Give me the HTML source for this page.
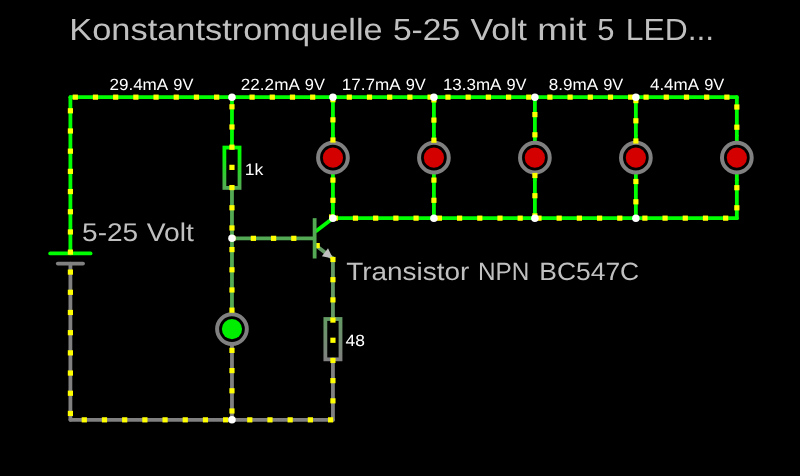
<!DOCTYPE html>
<html><head><meta charset="utf-8"><style>
html,body{margin:0;padding:0;background:#000;}
body{width:800px;height:476px;overflow:hidden;}
svg{display:block;will-change:transform;text-rendering:geometricPrecision;}
text{font-family:"Liberation Sans",sans-serif;}
</style></head><body>
<svg width="800" height="476" viewBox="0 0 800 476">
<rect width="800" height="476" fill="#000"/>
<line x1="70.4" y1="97.15" x2="736.84" y2="97.15" stroke="#00ff00" stroke-width="3.8" stroke-linecap="round"/>
<line x1="70.4" y1="97.15" x2="70.4" y2="253.45" stroke="#00ff00" stroke-width="3.8" stroke-linecap="round"/>
<line x1="70.4" y1="263.54" x2="70.4" y2="419.84" stroke="#808080" stroke-width="3.8" stroke-linecap="round"/>
<line x1="70.4" y1="419.84" x2="332.94" y2="419.84" stroke="#808080" stroke-width="3.8" stroke-linecap="round"/>
<line x1="50.2" y1="253.45" x2="90.6" y2="253.45" stroke="#00ff00" stroke-width="3.8" stroke-linecap="round"/>
<line x1="57.78" y1="263.54" x2="83.02" y2="263.54" stroke="#808080" stroke-width="3.8" stroke-linecap="round"/>
<line x1="332.94" y1="218.16" x2="736.84" y2="218.16" stroke="#00ff00" stroke-width="3.8" stroke-linecap="round"/>
<line x1="332.94" y1="97.15" x2="332.94" y2="134.97" stroke="#00ff00" stroke-width="3.8" stroke-linecap="round"/>
<line x1="332.94" y1="134.97" x2="332.94" y2="142.53" stroke="#00ff00" stroke-width="3.8" stroke-linecap="butt"/>
<line x1="332.94" y1="180.34" x2="332.94" y2="218.16" stroke="#00ff00" stroke-width="3.8" stroke-linecap="round"/>
<line x1="332.94" y1="172.78" x2="332.94" y2="180.34" stroke="#00ff00" stroke-width="3.8" stroke-linecap="butt"/>
<line x1="433.91" y1="97.15" x2="433.91" y2="134.97" stroke="#00ff00" stroke-width="3.8" stroke-linecap="round"/>
<line x1="433.91" y1="134.97" x2="433.91" y2="142.53" stroke="#00ff00" stroke-width="3.8" stroke-linecap="butt"/>
<line x1="433.91" y1="180.34" x2="433.91" y2="218.16" stroke="#00ff00" stroke-width="3.8" stroke-linecap="round"/>
<line x1="433.91" y1="172.78" x2="433.91" y2="180.34" stroke="#00ff00" stroke-width="3.8" stroke-linecap="butt"/>
<line x1="534.89" y1="97.15" x2="534.89" y2="134.97" stroke="#00ff00" stroke-width="3.8" stroke-linecap="round"/>
<line x1="534.89" y1="134.97" x2="534.89" y2="142.53" stroke="#00ff00" stroke-width="3.8" stroke-linecap="butt"/>
<line x1="534.89" y1="180.34" x2="534.89" y2="218.16" stroke="#00ff00" stroke-width="3.8" stroke-linecap="round"/>
<line x1="534.89" y1="172.78" x2="534.89" y2="180.34" stroke="#00ff00" stroke-width="3.8" stroke-linecap="butt"/>
<line x1="635.87" y1="97.15" x2="635.87" y2="134.97" stroke="#00ff00" stroke-width="3.8" stroke-linecap="round"/>
<line x1="635.87" y1="134.97" x2="635.87" y2="142.53" stroke="#00ff00" stroke-width="3.8" stroke-linecap="butt"/>
<line x1="635.87" y1="180.34" x2="635.87" y2="218.16" stroke="#00ff00" stroke-width="3.8" stroke-linecap="round"/>
<line x1="635.87" y1="172.78" x2="635.87" y2="180.34" stroke="#00ff00" stroke-width="3.8" stroke-linecap="butt"/>
<line x1="736.84" y1="97.15" x2="736.84" y2="134.97" stroke="#00ff00" stroke-width="3.8" stroke-linecap="round"/>
<line x1="736.84" y1="134.97" x2="736.84" y2="142.53" stroke="#00ff00" stroke-width="3.8" stroke-linecap="butt"/>
<line x1="736.84" y1="180.34" x2="736.84" y2="218.16" stroke="#00ff00" stroke-width="3.8" stroke-linecap="round"/>
<line x1="736.84" y1="172.78" x2="736.84" y2="180.34" stroke="#00ff00" stroke-width="3.8" stroke-linecap="butt"/>
<line x1="231.96" y1="97.15" x2="231.96" y2="147.57" stroke="#00ff00" stroke-width="3.8" stroke-linecap="round"/>
<line x1="231.96" y1="187.91" x2="231.96" y2="238.33" stroke="#54aa54" stroke-width="3.8" stroke-linecap="round"/>
<line x1="231.96" y1="238.33" x2="231.96" y2="306.39" stroke="#54aa54" stroke-width="3.8" stroke-linecap="round"/>
<line x1="231.96" y1="306.39" x2="231.96" y2="313.96" stroke="#54aa54" stroke-width="3.8" stroke-linecap="butt"/>
<line x1="231.96" y1="351.77" x2="231.96" y2="419.84" stroke="#808080" stroke-width="3.8" stroke-linecap="round"/>
<line x1="231.96" y1="344.21" x2="231.96" y2="351.77" stroke="#808080" stroke-width="3.8" stroke-linecap="butt"/>
<line x1="231.96" y1="238.33" x2="312.74" y2="238.33" stroke="#54aa54" stroke-width="3.8" stroke-linecap="round"/>
<line x1="332.94" y1="258.49" x2="332.94" y2="319" stroke="#649a64" stroke-width="3.8" stroke-linecap="round"/>
<line x1="332.94" y1="359.33" x2="332.94" y2="419.84" stroke="#808080" stroke-width="3.8" stroke-linecap="round"/>
<defs><linearGradient id="rg1" gradientUnits="userSpaceOnUse" x1="0" y1="147.57" x2="0" y2="187.91"><stop offset="0" stop-color="#00ff00"/><stop offset="0.12" stop-color="#00ff00"/><stop offset="1" stop-color="#54aa54"/></linearGradient></defs>
<rect x="224.39" y="147.57" width="15.15" height="40.34" fill="none" stroke="url(#rg1)" stroke-width="3.8"/>
<defs><linearGradient id="rg2" gradientUnits="userSpaceOnUse" x1="0" y1="319" x2="0" y2="359.33"><stop offset="0" stop-color="#649a64"/><stop offset="1" stop-color="#808080"/></linearGradient></defs>
<rect x="325.36" y="319" width="15.15" height="40.34" fill="none" stroke="url(#rg2)" stroke-width="3.8"/>
<line x1="316.53" y1="230.76" x2="332.94" y2="218.16" stroke="#00ff00" stroke-width="3.8" stroke-linecap="round"/>
<line x1="316.53" y1="245.89" x2="332.94" y2="258.49" stroke="#649a64" stroke-width="3.8" stroke-linecap="round"/>
<polygon points="332.94,258.49 321.86,256.34 328.01,248.35" fill="#c0c0c0"/>
<circle cx="332.94" cy="157.65" r="14.85" fill="none" stroke="#808080" stroke-width="4"/>
<circle cx="332.94" cy="157.65" r="10.1" fill="#d40000"/>
<circle cx="433.91" cy="157.65" r="14.85" fill="none" stroke="#808080" stroke-width="4"/>
<circle cx="433.91" cy="157.65" r="10.1" fill="#d40000"/>
<circle cx="534.89" cy="157.65" r="14.85" fill="none" stroke="#808080" stroke-width="4"/>
<circle cx="534.89" cy="157.65" r="10.1" fill="#d40000"/>
<circle cx="635.87" cy="157.65" r="14.85" fill="none" stroke="#808080" stroke-width="4"/>
<circle cx="635.87" cy="157.65" r="10.1" fill="#d40000"/>
<circle cx="736.84" cy="157.65" r="14.85" fill="none" stroke="#808080" stroke-width="4"/>
<circle cx="736.84" cy="157.65" r="10.1" fill="#d40000"/>
<circle cx="231.96" cy="329.08" r="14.85" fill="none" stroke="#808080" stroke-width="4"/>
<circle cx="231.96" cy="329.08" r="10.1" fill="#00ee00"/>
<rect x="72.7" y="94.55" width="5.2" height="5.2" fill="#ffff00"/>
<rect x="92.89" y="94.55" width="5.2" height="5.2" fill="#ffff00"/>
<rect x="113.08" y="94.55" width="5.2" height="5.2" fill="#ffff00"/>
<rect x="133.27" y="94.55" width="5.2" height="5.2" fill="#ffff00"/>
<rect x="153.46" y="94.55" width="5.2" height="5.2" fill="#ffff00"/>
<rect x="173.65" y="94.55" width="5.2" height="5.2" fill="#ffff00"/>
<rect x="193.84" y="94.55" width="5.2" height="5.2" fill="#ffff00"/>
<rect x="214.03" y="94.55" width="5.2" height="5.2" fill="#ffff00"/>
<rect x="249.5" y="94.55" width="5.2" height="5.2" fill="#ffff00"/>
<rect x="269.69" y="94.55" width="5.2" height="5.2" fill="#ffff00"/>
<rect x="289.88" y="94.55" width="5.2" height="5.2" fill="#ffff00"/>
<rect x="310.07" y="94.55" width="5.2" height="5.2" fill="#ffff00"/>
<rect x="330.26" y="94.55" width="5.2" height="5.2" fill="#ffff00"/>
<rect x="346.7" y="94.55" width="5.2" height="5.2" fill="#ffff00"/>
<rect x="366.89" y="94.55" width="5.2" height="5.2" fill="#ffff00"/>
<rect x="387.08" y="94.55" width="5.2" height="5.2" fill="#ffff00"/>
<rect x="407.27" y="94.55" width="5.2" height="5.2" fill="#ffff00"/>
<rect x="427.46" y="94.55" width="5.2" height="5.2" fill="#ffff00"/>
<rect x="445.4" y="94.55" width="5.2" height="5.2" fill="#ffff00"/>
<rect x="465.59" y="94.55" width="5.2" height="5.2" fill="#ffff00"/>
<rect x="485.78" y="94.55" width="5.2" height="5.2" fill="#ffff00"/>
<rect x="505.97" y="94.55" width="5.2" height="5.2" fill="#ffff00"/>
<rect x="526.16" y="94.55" width="5.2" height="5.2" fill="#ffff00"/>
<rect x="547.3" y="94.55" width="5.2" height="5.2" fill="#ffff00"/>
<rect x="567.49" y="94.55" width="5.2" height="5.2" fill="#ffff00"/>
<rect x="587.68" y="94.55" width="5.2" height="5.2" fill="#ffff00"/>
<rect x="607.87" y="94.55" width="5.2" height="5.2" fill="#ffff00"/>
<rect x="628.06" y="94.55" width="5.2" height="5.2" fill="#ffff00"/>
<rect x="643.5" y="94.55" width="5.2" height="5.2" fill="#ffff00"/>
<rect x="663.69" y="94.55" width="5.2" height="5.2" fill="#ffff00"/>
<rect x="683.88" y="94.55" width="5.2" height="5.2" fill="#ffff00"/>
<rect x="704.07" y="94.55" width="5.2" height="5.2" fill="#ffff00"/>
<rect x="724.26" y="94.55" width="5.2" height="5.2" fill="#ffff00"/>
<rect x="67.8" y="108.2" width="5.2" height="5.2" fill="#ffff00"/>
<rect x="67.8" y="128.39" width="5.2" height="5.2" fill="#ffff00"/>
<rect x="67.8" y="148.58" width="5.2" height="5.2" fill="#ffff00"/>
<rect x="67.8" y="168.77" width="5.2" height="5.2" fill="#ffff00"/>
<rect x="67.8" y="188.96" width="5.2" height="5.2" fill="#ffff00"/>
<rect x="67.8" y="209.15" width="5.2" height="5.2" fill="#ffff00"/>
<rect x="67.8" y="229.34" width="5.2" height="5.2" fill="#ffff00"/>
<rect x="67.8" y="249.53" width="5.2" height="5.2" fill="#ffff00"/>
<rect x="67.8" y="269.5" width="5.2" height="5.2" fill="#ffff00"/>
<rect x="67.8" y="289.69" width="5.2" height="5.2" fill="#ffff00"/>
<rect x="67.8" y="309.88" width="5.2" height="5.2" fill="#ffff00"/>
<rect x="67.8" y="330.07" width="5.2" height="5.2" fill="#ffff00"/>
<rect x="67.8" y="350.26" width="5.2" height="5.2" fill="#ffff00"/>
<rect x="67.8" y="370.45" width="5.2" height="5.2" fill="#ffff00"/>
<rect x="67.8" y="390.64" width="5.2" height="5.2" fill="#ffff00"/>
<rect x="67.8" y="410.83" width="5.2" height="5.2" fill="#ffff00"/>
<rect x="81.7" y="417.24" width="5.2" height="5.2" fill="#ffff00"/>
<rect x="101.89" y="417.24" width="5.2" height="5.2" fill="#ffff00"/>
<rect x="122.08" y="417.24" width="5.2" height="5.2" fill="#ffff00"/>
<rect x="142.27" y="417.24" width="5.2" height="5.2" fill="#ffff00"/>
<rect x="162.46" y="417.24" width="5.2" height="5.2" fill="#ffff00"/>
<rect x="182.65" y="417.24" width="5.2" height="5.2" fill="#ffff00"/>
<rect x="202.84" y="417.24" width="5.2" height="5.2" fill="#ffff00"/>
<rect x="223.03" y="417.24" width="5.2" height="5.2" fill="#ffff00"/>
<rect x="247.2" y="417.24" width="5.2" height="5.2" fill="#ffff00"/>
<rect x="267.39" y="417.24" width="5.2" height="5.2" fill="#ffff00"/>
<rect x="287.58" y="417.24" width="5.2" height="5.2" fill="#ffff00"/>
<rect x="307.77" y="417.24" width="5.2" height="5.2" fill="#ffff00"/>
<rect x="327.96" y="417.24" width="5.2" height="5.2" fill="#ffff00"/>
<rect x="229.36" y="104.2" width="5.2" height="5.2" fill="#ffff00"/>
<rect x="229.36" y="124.39" width="5.2" height="5.2" fill="#ffff00"/>
<rect x="229.36" y="144.58" width="5.2" height="5.2" fill="#ffff00"/>
<rect x="229.36" y="164.77" width="5.2" height="5.2" fill="#ffff00"/>
<rect x="229.36" y="184.96" width="5.2" height="5.2" fill="#ffff00"/>
<rect x="229.36" y="205.15" width="5.2" height="5.2" fill="#ffff00"/>
<rect x="229.36" y="225.34" width="5.2" height="5.2" fill="#ffff00"/>
<rect x="229.36" y="247" width="5.2" height="5.2" fill="#ffff00"/>
<rect x="229.36" y="267.19" width="5.2" height="5.2" fill="#ffff00"/>
<rect x="229.36" y="287.38" width="5.2" height="5.2" fill="#ffff00"/>
<rect x="229.36" y="307.57" width="5.2" height="5.2" fill="#ffff00"/>
<rect x="229.36" y="347.8" width="5.2" height="5.2" fill="#ffff00"/>
<rect x="229.36" y="367.99" width="5.2" height="5.2" fill="#ffff00"/>
<rect x="229.36" y="388.18" width="5.2" height="5.2" fill="#ffff00"/>
<rect x="229.36" y="408.37" width="5.2" height="5.2" fill="#ffff00"/>
<rect x="250.8" y="235.73" width="5.2" height="5.2" fill="#ffff00"/>
<rect x="270.99" y="235.73" width="5.2" height="5.2" fill="#ffff00"/>
<rect x="291.18" y="235.73" width="5.2" height="5.2" fill="#ffff00"/>
<rect x="230.2" y="235.73" width="5.2" height="5.2" fill="#ffff00"/>
<rect x="330.34" y="256.9" width="5.2" height="5.2" fill="#ffff00"/>
<rect x="330.34" y="277.09" width="5.2" height="5.2" fill="#ffff00"/>
<rect x="330.34" y="297.28" width="5.2" height="5.2" fill="#ffff00"/>
<rect x="330.34" y="317.47" width="5.2" height="5.2" fill="#ffff00"/>
<rect x="330.34" y="337.66" width="5.2" height="5.2" fill="#ffff00"/>
<rect x="330.34" y="357.85" width="5.2" height="5.2" fill="#ffff00"/>
<rect x="330.34" y="378.04" width="5.2" height="5.2" fill="#ffff00"/>
<rect x="330.34" y="398.23" width="5.2" height="5.2" fill="#ffff00"/>
<rect x="314.6" y="243" width="5.2" height="5.2" fill="#ffff00"/>
<rect x="329" y="214.4" width="5.2" height="5.2" fill="#ffff00"/>
<rect x="330.34" y="97.1" width="5.2" height="5.2" fill="#ffff00"/>
<rect x="330.34" y="117.25" width="5.2" height="5.2" fill="#ffff00"/>
<rect x="330.34" y="137.4" width="5.2" height="5.2" fill="#ffff00"/>
<rect x="330.34" y="177.5" width="5.2" height="5.2" fill="#ffff00"/>
<rect x="330.34" y="197.7" width="5.2" height="5.2" fill="#ffff00"/>
<rect x="431.31" y="97.3" width="5.2" height="5.2" fill="#ffff00"/>
<rect x="431.31" y="117.5" width="5.2" height="5.2" fill="#ffff00"/>
<rect x="431.31" y="137.6" width="5.2" height="5.2" fill="#ffff00"/>
<rect x="431.31" y="177.5" width="5.2" height="5.2" fill="#ffff00"/>
<rect x="431.31" y="197.7" width="5.2" height="5.2" fill="#ffff00"/>
<rect x="532.29" y="112" width="5.2" height="5.2" fill="#ffff00"/>
<rect x="532.29" y="132.2" width="5.2" height="5.2" fill="#ffff00"/>
<rect x="532.29" y="172.9" width="5.2" height="5.2" fill="#ffff00"/>
<rect x="532.29" y="193.1" width="5.2" height="5.2" fill="#ffff00"/>
<rect x="532.29" y="213.3" width="5.2" height="5.2" fill="#ffff00"/>
<rect x="633.27" y="98" width="5.2" height="5.2" fill="#ffff00"/>
<rect x="633.27" y="118.2" width="5.2" height="5.2" fill="#ffff00"/>
<rect x="633.27" y="138.4" width="5.2" height="5.2" fill="#ffff00"/>
<rect x="633.27" y="178.9" width="5.2" height="5.2" fill="#ffff00"/>
<rect x="633.27" y="199.2" width="5.2" height="5.2" fill="#ffff00"/>
<rect x="734.24" y="104.4" width="5.2" height="5.2" fill="#ffff00"/>
<rect x="734.24" y="124.6" width="5.2" height="5.2" fill="#ffff00"/>
<rect x="734.24" y="185.1" width="5.2" height="5.2" fill="#ffff00"/>
<rect x="734.24" y="205.2" width="5.2" height="5.2" fill="#ffff00"/>
<rect x="332.7" y="215.56" width="5.2" height="5.2" fill="#ffff00"/>
<rect x="352.89" y="215.56" width="5.2" height="5.2" fill="#ffff00"/>
<rect x="373.08" y="215.56" width="5.2" height="5.2" fill="#ffff00"/>
<rect x="393.27" y="215.56" width="5.2" height="5.2" fill="#ffff00"/>
<rect x="413.46" y="215.56" width="5.2" height="5.2" fill="#ffff00"/>
<rect x="436.8" y="215.56" width="5.2" height="5.2" fill="#ffff00"/>
<rect x="456.99" y="215.56" width="5.2" height="5.2" fill="#ffff00"/>
<rect x="477.18" y="215.56" width="5.2" height="5.2" fill="#ffff00"/>
<rect x="497.37" y="215.56" width="5.2" height="5.2" fill="#ffff00"/>
<rect x="517.56" y="215.56" width="5.2" height="5.2" fill="#ffff00"/>
<rect x="536.4" y="215.56" width="5.2" height="5.2" fill="#ffff00"/>
<rect x="556.59" y="215.56" width="5.2" height="5.2" fill="#ffff00"/>
<rect x="576.78" y="215.56" width="5.2" height="5.2" fill="#ffff00"/>
<rect x="596.97" y="215.56" width="5.2" height="5.2" fill="#ffff00"/>
<rect x="617.16" y="215.56" width="5.2" height="5.2" fill="#ffff00"/>
<rect x="642.3" y="215.56" width="5.2" height="5.2" fill="#ffff00"/>
<rect x="662.49" y="215.56" width="5.2" height="5.2" fill="#ffff00"/>
<rect x="682.68" y="215.56" width="5.2" height="5.2" fill="#ffff00"/>
<rect x="702.87" y="215.56" width="5.2" height="5.2" fill="#ffff00"/>
<rect x="723.06" y="215.56" width="5.2" height="5.2" fill="#ffff00"/>
<rect x="312.74" y="218.16" width="3.79" height="40.34" fill="#54aa54"/>
<circle cx="231.96" cy="97.15" r="3.75" fill="#fff"/>
<circle cx="332.94" cy="97.15" r="3.75" fill="#fff"/>
<circle cx="433.91" cy="97.15" r="3.75" fill="#fff"/>
<circle cx="534.89" cy="97.15" r="3.75" fill="#fff"/>
<circle cx="635.87" cy="97.15" r="3.75" fill="#fff"/>
<circle cx="231.96" cy="238.33" r="3.75" fill="#fff"/>
<circle cx="332.94" cy="218.16" r="3.75" fill="#fff"/>
<circle cx="433.91" cy="218.16" r="3.75" fill="#fff"/>
<circle cx="534.89" cy="218.16" r="3.75" fill="#fff"/>
<circle cx="635.87" cy="218.16" r="3.75" fill="#fff"/>
<circle cx="231.96" cy="419.84" r="3.75" fill="#fff"/>
<text x="69.28" y="39.7"  font-size="30.6" fill="#c0c0c0" text-anchor="start" textLength="313.49" lengthAdjust="spacingAndGlyphs">Konstantstromquelle</text>
<text x="392.95" y="39.7"  font-size="30.6" fill="#c0c0c0" text-anchor="start" textLength="67.2" lengthAdjust="spacingAndGlyphs">5-25</text>
<text x="470.51" y="39.7"  font-size="30.6" fill="#c0c0c0" text-anchor="start" textLength="56.54" lengthAdjust="spacingAndGlyphs">Volt</text>
<text x="537.3" y="39.7"  font-size="30.6" fill="#c0c0c0" text-anchor="start" textLength="49.11" lengthAdjust="spacingAndGlyphs">mit</text>
<text x="597.27" y="39.7"  font-size="30.6" fill="#c0c0c0" text-anchor="start" textLength="17.2" lengthAdjust="spacingAndGlyphs">5</text>
<text x="625.74" y="39.7"  font-size="30.6" fill="#c0c0c0" text-anchor="start" textLength="88.44" lengthAdjust="spacingAndGlyphs">LED...</text>
<text x="346.24" y="279.6"  font-size="25" fill="#c0c0c0" text-anchor="start" textLength="123.09" lengthAdjust="spacingAndGlyphs">Transistor</text>
<text x="478.03" y="279.6"  font-size="25" fill="#c0c0c0" text-anchor="start" textLength="51.43" lengthAdjust="spacingAndGlyphs">NPN</text>
<text x="539.37" y="279.6"  font-size="25" fill="#c0c0c0" text-anchor="start" textLength="99.81" lengthAdjust="spacingAndGlyphs">BC547C</text>
<text x="82.08" y="240.6"  font-size="25.6" fill="#c0c0c0" text-anchor="start" textLength="56.09" lengthAdjust="spacingAndGlyphs">5-25</text>
<text x="146.77" y="240.6"  font-size="25.6" fill="#c0c0c0" text-anchor="start" textLength="47.15" lengthAdjust="spacingAndGlyphs">Volt</text>
<text x="109.42" y="90"  font-size="16.2" fill="#ffffff" text-anchor="start" textLength="58.82" lengthAdjust="spacingAndGlyphs">29.4mA</text>
<text x="173.26" y="90"  font-size="16.2" fill="#ffffff" text-anchor="start" textLength="20.11" lengthAdjust="spacingAndGlyphs">9V</text>
<text x="240.81" y="90"  font-size="16.2" fill="#ffffff" text-anchor="start" textLength="59.03" lengthAdjust="spacingAndGlyphs">22.2mA</text>
<text x="304.86" y="90"  font-size="16.2" fill="#ffffff" text-anchor="start" textLength="20.11" lengthAdjust="spacingAndGlyphs">9V</text>
<text x="341.87" y="90"  font-size="16.2" fill="#ffffff" text-anchor="start" textLength="58.77" lengthAdjust="spacingAndGlyphs">17.7mA</text>
<text x="405.66" y="90"  font-size="16.2" fill="#ffffff" text-anchor="start" textLength="20.11" lengthAdjust="spacingAndGlyphs">9V</text>
<text x="442.92" y="90"  font-size="16.2" fill="#ffffff" text-anchor="start" textLength="58.52" lengthAdjust="spacingAndGlyphs">13.3mA</text>
<text x="506.46" y="90"  font-size="16.2" fill="#ffffff" text-anchor="start" textLength="20.11" lengthAdjust="spacingAndGlyphs">9V</text>
<text x="548.87" y="90"  font-size="16.2" fill="#ffffff" text-anchor="start" textLength="49.26" lengthAdjust="spacingAndGlyphs">8.9mA</text>
<text x="603.16" y="90"  font-size="16.2" fill="#ffffff" text-anchor="start" textLength="20.11" lengthAdjust="spacingAndGlyphs">9V</text>
<text x="649.95" y="90"  font-size="16.2" fill="#ffffff" text-anchor="start" textLength="49.18" lengthAdjust="spacingAndGlyphs">4.4mA</text>
<text x="704.16" y="90"  font-size="16.2" fill="#ffffff" text-anchor="start" textLength="20.11" lengthAdjust="spacingAndGlyphs">9V</text>
<text x="244.68" y="175"  font-size="16.2" fill="#ffffff" text-anchor="start" textLength="18.59" lengthAdjust="spacingAndGlyphs">1k</text>
<text x="345.54" y="346"  font-size="16.2" fill="#ffffff" text-anchor="start" textLength="19.35" lengthAdjust="spacingAndGlyphs">48</text>
</svg>
</body></html>
